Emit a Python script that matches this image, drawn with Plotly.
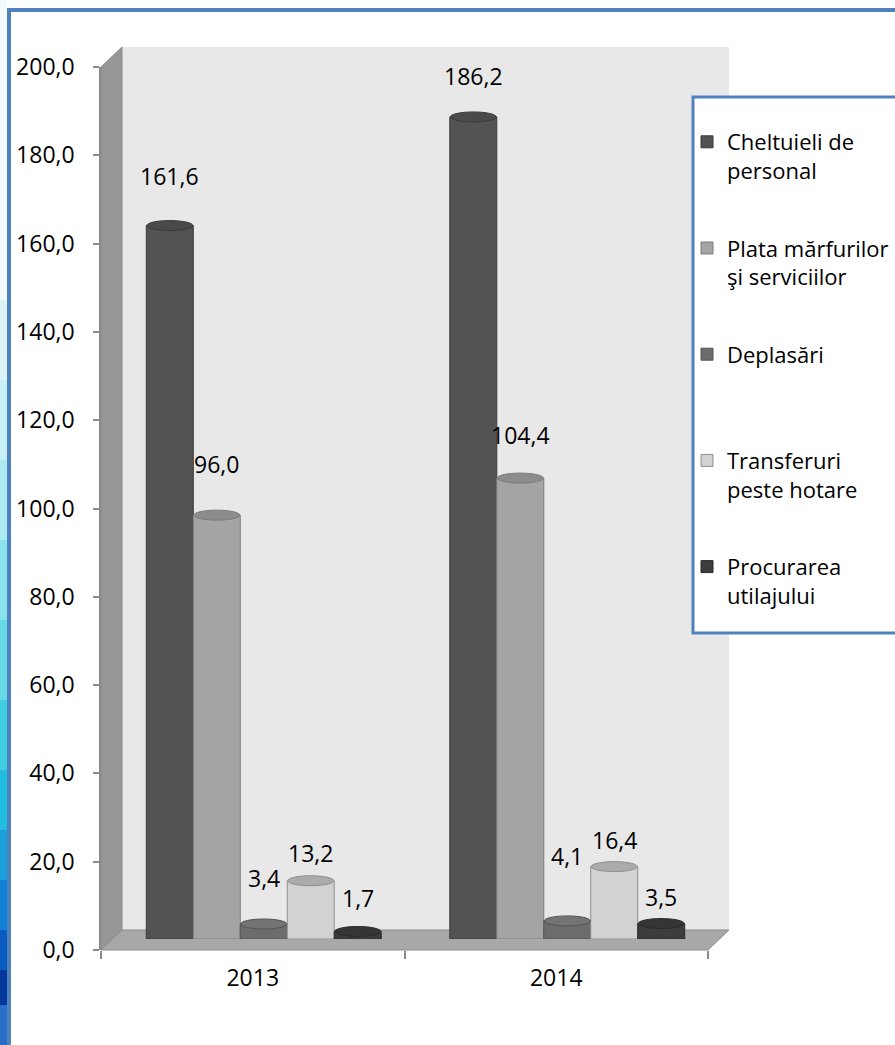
import plotly.graph_objects as go

# ---------------- data ----------------
years = ["2013", "2014"]
series_names = [
    "Cheltuieli de<br>personal",
    "Plata mărfurilor<br>şi serviciilor",
    "Deplasări<br>\u00a0",
    "Transferuri<br>peste hotare",
    "Procurarea<br>utilajului",
]
cheltuieli = [161.6, 186.2]
plata = [96.0, 104.4]
deplasari = [3.4, 4.1]
transferuri = [13.2, 16.4]
procurarea = [1.7, 3.5]
y_ticks = [0, 20, 40, 60, 80, 100, 120, 140, 160, 180, 200]

# ---------------- styles ----------------
series_values = [cheltuieli, plata, deplasari, transferuri, procurarea]
body_colors = ["#535353", "#a4a4a4", "#6c6c6c", "#d2d2d2", "#3d3d3d"]
line_colors = ["#3a3a3a", "#7c7c7c", "#555555", "#8f8f8f", "#2a2a2a"]
top_colors = ["#4a4a4a", "#8c8c8c", "#747474", "#ababab", "#353535"]
# label vertical lift above each bar top (pixels), per series per year
label_lift = [[45, 36], [46, 38], [41, 60], [23, 22], [28, 22]]

W, H = 895, 1045
FONT = "Open Sans"
FS = 23
LEG_FS = 22


def fx(px):
    return px / W


def fy(py):
    return 1 - py / H


# plot geometry (pixels)
AX_L, AX_R, AX_T, AX_B = 101, 708, 67, 950
DX, DY = 11, 11       # depth shift of bars
BACK = 21             # depth of wall
BARGAP = 0.226
cat_px = (AX_R - AX_L) / len(years)
bar_px = cat_px * (1 - BARGAP) / len(series_values)

fig = go.Figure()

# dummy trace to register categories on visible axis
fig.add_trace(go.Scatter(x=years, y=[None] * len(years), xaxis="x", yaxis="y",
                         mode="markers", showlegend=False, hoverinfo="skip"))

for i, (name, vals) in enumerate(zip(series_names, series_values)):
    fig.add_trace(go.Bar(
        x=years, y=vals, name=name, xaxis="x2", yaxis="y2",
        marker=dict(color=body_colors[i], line=dict(color=line_colors[i], width=1)),
        legendgroup=f"g{i}", cliponaxis=False, hoverinfo="skip",
    ))

shapes = []
# left gradient strip (slide background)
strip = [
    (0, 300, "#f2fafc"), (300, 380, "#dcf4f8"), (380, 460, "#c6f0f5"),
    (460, 540, "#abeaf1"), (540, 620, "#8ae3ec"), (620, 700, "#66dae7"),
    (700, 770, "#3fcfe1"), (770, 830, "#22bde0"), (830, 880, "#1aa0da"),
    (880, 930, "#1280d2"), (930, 970, "#0a5cc0"), (970, 1005, "#05369a"),
    (1005, 1045, "#2a6ec8"),
]
for y0, y1, c in strip:
    shapes.append(dict(type="rect", xref="paper", yref="paper", x0=0, x1=fx(7),
                       y0=fy(y1), y1=fy(y0), fillcolor=c, line=dict(width=0), layer="below"))
# blue frame
shapes.append(dict(type="rect", xref="paper", yref="paper", x0=fx(7), x1=1.01,
                   y0=fy(12), y1=fy(8), fillcolor="#4f81bd", line=dict(width=0), layer="below"))
shapes.append(dict(type="rect", xref="paper", yref="paper", x0=fx(7), x1=fx(11),
                   y0=-0.01, y1=fy(8), fillcolor="#4f81bd", line=dict(width=0), layer="below"))
# back wall
shapes.append(dict(type="rect", xref="paper", yref="paper",
                   x0=fx(AX_L + BACK), x1=fx(AX_R + BACK), y0=fy(AX_B - BACK + 1), y1=fy(AX_T - BACK + 1),
                   fillcolor="#e8e8e8", line=dict(width=0), layer="below"))


def path(points):
    return "M " + " L ".join(f"{fx(x):.5f},{fy(y):.5f}" for x, y in points) + " Z"


# side wall
shapes.append(dict(type="path", xref="paper", yref="paper",
                   path=path([(AX_L, AX_T), (AX_L + BACK, AX_T - BACK + 1),
                              (AX_L + BACK, AX_B - BACK + 1), (AX_L, AX_B)]),
                   fillcolor="#979797", line=dict(color="#8a8a8a", width=1), layer="below"))
# floor
shapes.append(dict(type="path", xref="paper", yref="paper",
                   path=path([(AX_L, AX_B), (AX_L + BACK, AX_B - BACK + 1),
                              (AX_R + BACK, AX_B - BACK + 1), (AX_R, AX_B)]),
                   fillcolor="#a8a8a8", line=dict(color="#8c8c8c", width=1), layer="below"))

# cylinder top ellipses + labels
annotations = []
n = len(series_values)
for i, vals in enumerate(series_values):
    off = (i - (n - 1) / 2) * bar_px
    for j, v in enumerate(vals):
        shapes.append(dict(type="circle", xref="x2", yref="y2",
                           xsizemode="pixel", ysizemode="pixel",
                           xanchor=j, yanchor=v,
                           x0=off - bar_px / 2 + 0.5, x1=off + bar_px / 2 - 0.5, y0=-5, y1=5,
                           fillcolor=top_colors[i], line=dict(color=line_colors[i], width=1),
                           layer="above"))
        annotations.append(dict(x=j, y=v, xref="x2", yref="y2",
                                xshift=off, yshift=label_lift[i][j] + 5,
                                text=f"{v:.1f}".replace(".", ","), showarrow=False,
                                xanchor="center", yanchor="middle",
                                font=dict(family=FONT, size=FS, color="#000000")))

# legend box
shapes.append(dict(type="rect", xref="paper", yref="paper",
                   x0=fx(693), x1=1.05, y0=fy(633), y1=fy(97),
                   fillcolor="#ffffff", line=dict(color="#4f81bd", width=3), layer="above"))

hidden_axis = dict(showticklabels=False, ticks="", showline=False, showgrid=False,
                   zeroline=False)

fig.update_layout(
    width=W, height=H,
    margin=dict(l=0, r=0, t=0, b=0, autoexpand=False),
    paper_bgcolor="#ffffff", plot_bgcolor="rgba(0,0,0,0)",
    separators=", ",
    font=dict(family=FONT, size=FS, color="#000000"),
    barmode="group", bargap=BARGAP, bargroupgap=0,
    showlegend=True,
    legend=dict(x=fx(687), y=fy(121), xanchor="left", yanchor="top",
                bgcolor="rgba(0,0,0,0)", borderwidth=0,
                font=dict(family=FONT, size=LEG_FS, color="#000000"),
                traceorder="grouped", tracegroupgap=46, valign="top",
                itemclick=False, itemdoubleclick=False),
    xaxis=dict(type="category", domain=[fx(AX_L), fx(AX_R)], anchor="y",
               range=[-0.5, len(years) - 0.5], tickson="boundaries",
               ticks="outside", ticklen=8, tickcolor="#8a8a8a", tickwidth=1.5,
               showline=False, showgrid=False, zeroline=False,
               ticklabelstandoff=12, tickfont=dict(family=FONT, size=FS)),
    yaxis=dict(domain=[fy(AX_B), fy(AX_T)], anchor="x", range=[0, 200],
               tickmode="array", tickvals=y_ticks, tickformat=".1f",
               ticks="outside", ticklen=6, tickcolor="#8a8a8a", tickwidth=1.5,
               showline=True, linecolor="#8a8a8a", linewidth=1.5,
               showgrid=False, zeroline=False, ticklabelstandoff=14,
               tickfont=dict(family=FONT, size=FS)),
    xaxis2=dict(type="category", domain=[fx(AX_L + DX), fx(AX_R + DX)], anchor="y2",
                range=[-0.5, len(years) - 0.5], **hidden_axis),
    yaxis2=dict(domain=[fy(AX_B - DY), fy(AX_T - DY)], anchor="x2", range=[0, 200],
                **hidden_axis),
    shapes=shapes,
    annotations=annotations,
)

fig.write_html("out.html", config={"displayModeBar": False},
               post_script="document.body.style.margin='0px';")
